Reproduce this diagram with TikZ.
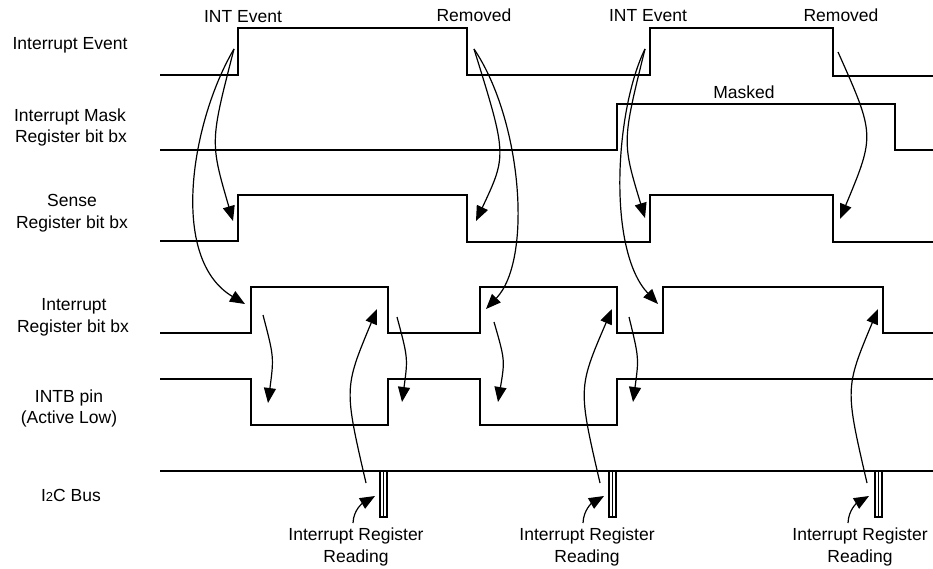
\documentclass[tikz,border=0pt]{standalone}
\usepackage{fontspec}
\setmainfont{Liberation Sans}
\usetikzlibrary{arrows.meta}
\begin{document}
\begin{tikzpicture}[x=1pt,y=-1pt,
  wave/.style={line width=1.4pt, line join=miter},
  arr/.style={line width=1.2pt, -{Triangle[length=15pt,width=12pt]}},
  pulse/.style={line width=1.4pt},
  lbl/.style={anchor=base, inner sep=0pt, font=\fontsize{17.5}{21}\selectfont}]
\useasboundingbox[fill=white] (0,0) rectangle (933,569);

% ---- left labels ----
\node[lbl] (l1) at (70,50) {Interrupt Event};
\node[lbl] (l2a) at (70,122) {Interrupt Mask};
\node[lbl] (l2b) at (71,143) {Register bit bx};
\node[lbl] (l3a) at (72,207) {Sense};
\node[lbl] (l3b) at (72,229) {Register bit bx};
\node[lbl] (l4a) at (74,310) {Interrupt};
\node[lbl] (l4b) at (73,332) {Register bit bx};
\node[lbl] (l5a) at (69,402) {INTB pin};
\node[lbl] (l5b) at (69,423) {(Active Low)};
\node[lbl] (l6) at (71,501) {I{\fontsize{13}{13}\selectfont 2}C Bus};

% ---- top labels ----
\node[lbl] (t1) at (243,23) {INT Event};
\node[lbl] (t2) at (474,22) {Removed};
\node[lbl] (t3) at (648,22) {INT Event};
\node[lbl] (t4) at (841,22) {Removed};
\node[lbl] (t5) at (744,99) {Masked};

% ---- bottom labels ----
\node[lbl] (b1a) at (356,540) {Interrupt Register};
\node[lbl] (b1b) at (356,562) {Reading};
\node[lbl] (b2a) at (587,540) {Interrupt Register};
\node[lbl] (b2b) at (587,562) {Reading};
\node[lbl] (b3a) at (860,540) {Interrupt Register};
\node[lbl] (b3b) at (860,562) {Reading};

% ---- waveforms ----
\draw[wave] (160,75) -- (238,75) -- (238,28) -- (467,28) -- (467,75) -- (650,75) -- (650,28) -- (833,28) -- (833,76) -- (933,76);
\draw[wave] (160,150) -- (617,150) -- (617,104) -- (895,104) -- (895,150) -- (933,150);
\draw[wave] (160,241) -- (238,241) -- (238,195) -- (467,195) -- (467,242) -- (650,242) -- (650,195) -- (833,195) -- (833,242) -- (933,242);
\draw[wave] (160,333) -- (251,333) -- (251,287) -- (388,287) -- (388,333) -- (480,333) -- (480,287) -- (617,287) -- (617,333) -- (663,333) -- (663,287) -- (883,287) -- (883,333) -- (933,333);
\draw[wave] (160,379) -- (251,379) -- (251,425) -- (388,425) -- (388,379) -- (480,379) -- (480,425) -- (617,425) -- (617,379) -- (933,379);
\draw[wave] (160,471) -- (933,471);

% I2C read pulses
\foreach \px in {380, 609, 875}{
  \draw[pulse] (\px,471) -- (\px,517) -- (\px+7,517) -- (\px+7,471);
  \draw[pulse] (\px+3.5,471) -- (\px+3.5,517);
}

% ---- arrow end points ----
\coordinate (e1) at (234,49);
\coordinate (e2) at (474,49);
\coordinate (e3) at (645,49);
\coordinate (e4) at (838,52);
\coordinate (s1) at (233,221);
\coordinate (s2) at (476,221);
\coordinate (s3) at (645,218);
\coordinate (s4) at (840,219);
\coordinate (r1) at (245,304);
\coordinate (r2) at (486,309);
\coordinate (r3) at (658,304);
\coordinate (f1) at (377,309);
\coordinate (f2) at (612,309);
\coordinate (f3) at (878,309);
\coordinate (ia) at (263,315);
\coordinate (ib) at (397,317);
\coordinate (ic) at (494,322);
\coordinate (id) at (629,317);
\coordinate (na) at (268,403);
\coordinate (nb) at (402,402);
\coordinate (nc) at (498,402);
\coordinate (nd) at (633,402);
\coordinate (q1) at (366,483);
\coordinate (q2) at (600,483);
\coordinate (q3) at (867,483);
\coordinate (g1) at (353,523);
\coordinate (g2) at (583,523);
\coordinate (g3) at (848,523);
\coordinate (h1) at (375,496);
\coordinate (h2) at (604,496);
\coordinate (h3) at (869,496);

% ---- event arrows ----
\draw[arr] (e1) .. controls (210,142) .. (s1);
\draw[arr] (e1) .. controls (192,120) and (168,258) .. (r1);
\draw[arr] (e2) .. controls (507,155) .. (s2);
\draw[arr] (e2) .. controls (522,120) and (533,260) .. (r2);
\draw[arr] (e3) .. controls (622,142) .. (s3);
\draw[arr] (e3) .. controls (615,110) and (607,250) .. (r3);
\draw[arr] (e4) .. controls (875,135) .. (s4);

% ---- interrupt register -> INTB ----
\draw[arr] (ia) .. controls (274,357) .. (na);
\draw[arr] (ib) .. controls (408,358) .. (nb);
\draw[arr] (ic) .. controls (505,360) .. (nc);
\draw[arr] (id) .. controls (639,358) .. (nd);

% ---- I2C read -> interrupt register ----
\draw[arr] (q1) .. controls (344,388) .. (f1);
\draw[arr] (q2) .. controls (578,388) .. (f2);
\draw[arr] (q3) .. controls (845,388) .. (f3);

% ---- label -> pulse ----
\draw[arr] (g1) to[out=88,in=210] (h1);
\draw[arr] (g2) to[out=88,in=210] (h2);
\draw[arr] (g3) to[out=88,in=210] (h3);
\end{tikzpicture}
\end{document}
